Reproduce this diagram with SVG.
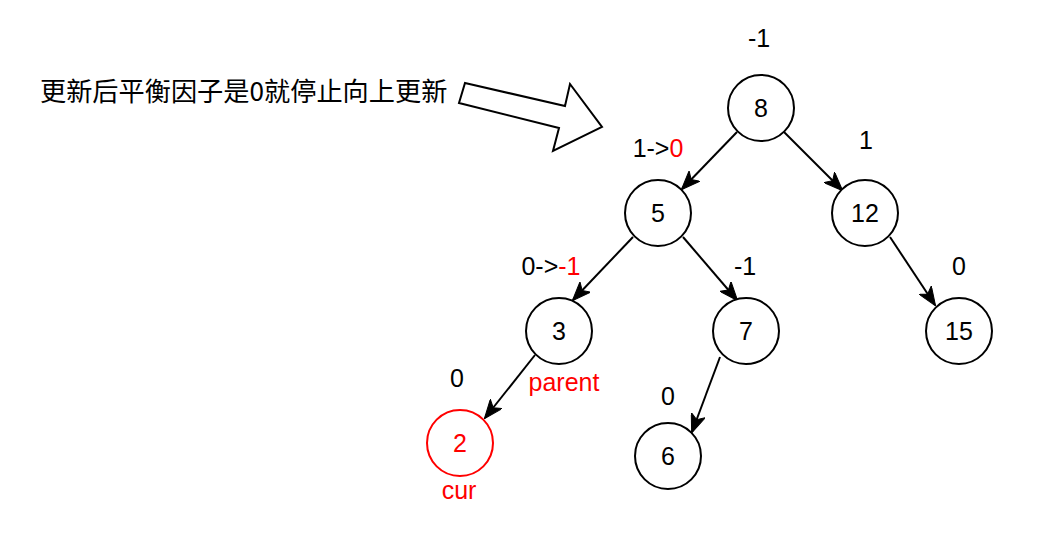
<svg xmlns="http://www.w3.org/2000/svg" width="1058" height="539" viewBox="0 0 1058 539">
<defs>
<style>
.n{fill:#fff;stroke:#000;stroke-width:2}
.t{font-family:"Liberation Sans",Arial,sans-serif;font-size:25px;fill:#000;text-anchor:middle}
.r{fill:#ff0000}
.e{stroke:#000;stroke-width:2;fill:none;marker-end:url(#ah)}
.cjk{font-family:"Noto Sans CJK SC","Liberation Sans",sans-serif;font-size:26.2px;fill:#000}
</style>
<marker id="ah" viewBox="0 0 19 15" refX="18" refY="7.5" markerWidth="19" markerHeight="15" markerUnits="userSpaceOnUse" orient="auto">
<path d="M0,0 L19,7.5 L0,15 L4.8,7.5 Z" fill="#000" stroke="#000" stroke-width="1"/>
</marker>
</defs>
<rect width="1058" height="539" fill="#fff"/>
<g id="note">
<text class="cjk" x="40" y="101">更新后平衡因子是0就停止向上更新</text>
<polygon points="465,83 565,106 570,84 602,127 553,151 559,128 459,103" fill="#fff" stroke="#000" stroke-width="2" stroke-linejoin="miter"/>
</g>
<g id="connectors">
<line class="e" x1="737" y1="132" x2="682" y2="189"/>
<line class="e" x1="784" y1="132" x2="842" y2="190"/>
<line class="e" x1="633" y1="237" x2="573" y2="300"/>
<line class="e" x1="683" y1="237" x2="737" y2="300"/>
<line class="e" x1="890" y1="237" x2="935" y2="305"/>
<line class="e" x1="535" y1="355" x2="485" y2="418"/>
<line class="e" x1="720" y1="357" x2="692" y2="432"/>
</g>
<g id="node8"><circle class="n" cx="761" cy="108" r="33"/><text class="t" x="761" y="117">8</text></g>
<g id="node5"><circle class="n" cx="658" cy="213" r="33"/><text class="t" x="658" y="222">5</text></g>
<g id="node12"><circle class="n" cx="865" cy="213" r="33"/><text class="t" x="865" y="222">12</text></g>
<g id="node3"><circle class="n" cx="559" cy="331" r="33"/><text class="t" x="559" y="340">3</text></g>
<g id="node7"><circle class="n" cx="746" cy="331" r="33"/><text class="t" x="746" y="340">7</text></g>
<g id="node15"><circle class="n" cx="959" cy="331" r="33"/><text class="t" x="959" y="340">15</text></g>
<g id="node2"><circle class="n" cx="460" cy="443" r="33" style="stroke:#ff0000"/><text class="t r" x="460" y="452">2</text></g>
<g id="node6"><circle class="n" cx="668" cy="456" r="33"/><text class="t" x="668" y="465">6</text></g>
<g id="labels">
<text class="t" x="759" y="47">-1</text>
<text class="t" x="658" y="157">1-&gt;<tspan class="r">0</tspan></text>
<text class="t" x="866" y="149">1</text>
<text class="t" x="551" y="275">0-&gt;<tspan class="r">-1</tspan></text>
<text class="t" x="745" y="275">-1</text>
<text class="t" x="959" y="275">0</text>
<text class="t" x="457" y="387">0</text>
<text class="t r" x="564" y="391">parent</text>
<text class="t" x="668" y="405">0</text>
<text class="t r" x="459" y="499">cur</text>
</g>
</svg>
